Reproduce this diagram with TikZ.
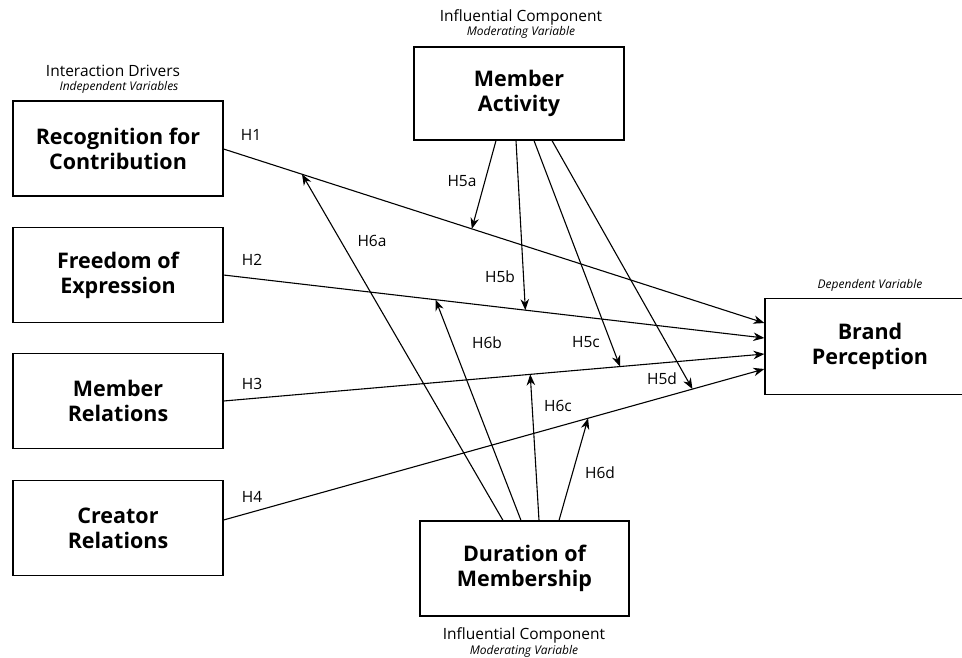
\documentclass[tikz,border=0pt]{standalone}
\usepackage{fontspec}
\setmainfont{Open Sans}
\usetikzlibrary{arrows.meta,calc}
\tikzset{
  varbox/.style={draw, line width=1.2pt, minimum width=210pt, minimum height=95pt, align=center,
    font=\fontsize{21.5}{25}\selectfont\bfseries, inner sep=0pt},
  headlbl/.style={font=\fontsize{15.5}{17}\selectfont, inner sep=0pt},
  sublbl/.style={font=\fontsize{12}{13}\selectfont\itshape, inner sep=0pt},
  hlbl/.style={font=\fontsize{15.5}{17}\selectfont, inner sep=0pt},
  link/.style={line width=1.1pt, -{Stealth[length=11pt,width=8.5pt,inset=3.5pt]}},
}
\begin{document}
\begin{tikzpicture}[x=1pt,y=-1pt]
\useasboundingbox (0,0) rectangle (962,657);
\begin{scope}
\clip (0,0) rectangle (962,657);
% boxes
\node[varbox] (rc) at (118,148.5) {Recognition for\\Contribution};
\node[varbox] (fe) at (118,275) {Freedom of\\Expression};
\node[varbox] (mr) at (118,401) {Member\\Relations};
\node[varbox] (cr) at (118,528) {Creator\\Relations};
\node[varbox, minimum width=210pt, minimum height=93pt] (ma) at (519,93.5) {Member\\Activity};
\node[varbox, minimum width=209pt] (dm) at (524.5,568.5) {Duration of\\Membership};
\node[varbox, minimum height=96pt] (bp) at (870,346.5) {Brand\\Perception};
\end{scope}
% headings
\node[headlbl] (h1) at (113,71) {Interaction Drivers};
\node[sublbl] (s1) at (119,87) {Independent Variables};
\node[headlbl] (h2) at (521,17) {Influential Component};
\node[sublbl] (s2) at (521,32) {Moderating Variable};
\node[sublbl] (s3) at (870,285) {Dependent Variable};
\node[headlbl] (h3) at (524,635) {Influential Component};
\node[sublbl] (s4) at (524,651) {Moderating Variable};
% main link endpoints
\coordinate (a1) at (rc.east |- 0,149);
\coordinate (a2) at (fe.east |- 0,275);
\coordinate (a3) at (mr.east |- 0,401);
\coordinate (a4) at (cr.east |- 0,520);
\coordinate (b1) at (bp.west |- 0,323);
\coordinate (b2) at (bp.west |- 0,338);
\coordinate (b3) at (bp.west |- 0,354);
\coordinate (b4) at (bp.west |- 0,369);
\draw[link] (a1) -- (b1);
\draw[link] (a2) -- (b2);
\draw[link] (a3) -- (b3);
\draw[link] (a4) -- (b4);
% moderator start points
\coordinate (m1) at (496,0 |- ma.south);
\coordinate (m2) at (516,0 |- ma.south);
\coordinate (m3) at (534,0 |- ma.south);
\coordinate (m4) at (552,0 |- ma.south);
\coordinate (d1) at (503,0 |- dm.north);
\coordinate (d2) at (521,0 |- dm.north);
\coordinate (d3) at (539,0 |- dm.north);
\coordinate (d4) at (559,0 |- dm.north);
% moderator arrows
\draw[link] (m1) -- ($(a1)!0.459!(b1)$);
\draw[link] (m2) -- ($(a2)!0.558!(b2)$);
\draw[link] (m3) -- ($(a3)!0.733!(b3)$);
\draw[link] (m4) -- ($(a4)!0.867!(b4)$);
\draw[link] (d1) -- ($(a1)!0.145!(b1)$);
\draw[link] (d2) -- ($(a2)!0.392!(b2)$);
\draw[link] (d3) -- ($(a3)!0.567!(b3)$);
\draw[link] (d4) -- ($(a4)!0.674!(b4)$);
% labels
\node[hlbl] (l1) at (251,135) {H1};
\node[hlbl] (l2) at (252,260) {H2};
\node[hlbl] (l3) at (252,384) {H3};
\node[hlbl] (l4) at (252,497) {H4};
\node[hlbl] (l5a) at (462,181) {H5a};
\node[hlbl] (l5b) at (500,277) {H5b};
\node[hlbl] (l5c) at (586,342) {H5c};
\node[hlbl] (l5d) at (662,379) {H5d};
\node[hlbl] (l6a) at (372,241) {H6a};
\node[hlbl] (l6b) at (487,343) {H6b};
\node[hlbl] (l6c) at (558,406) {H6c};
\node[hlbl] (l6d) at (600,473) {H6d};
\end{tikzpicture}
\end{document}
